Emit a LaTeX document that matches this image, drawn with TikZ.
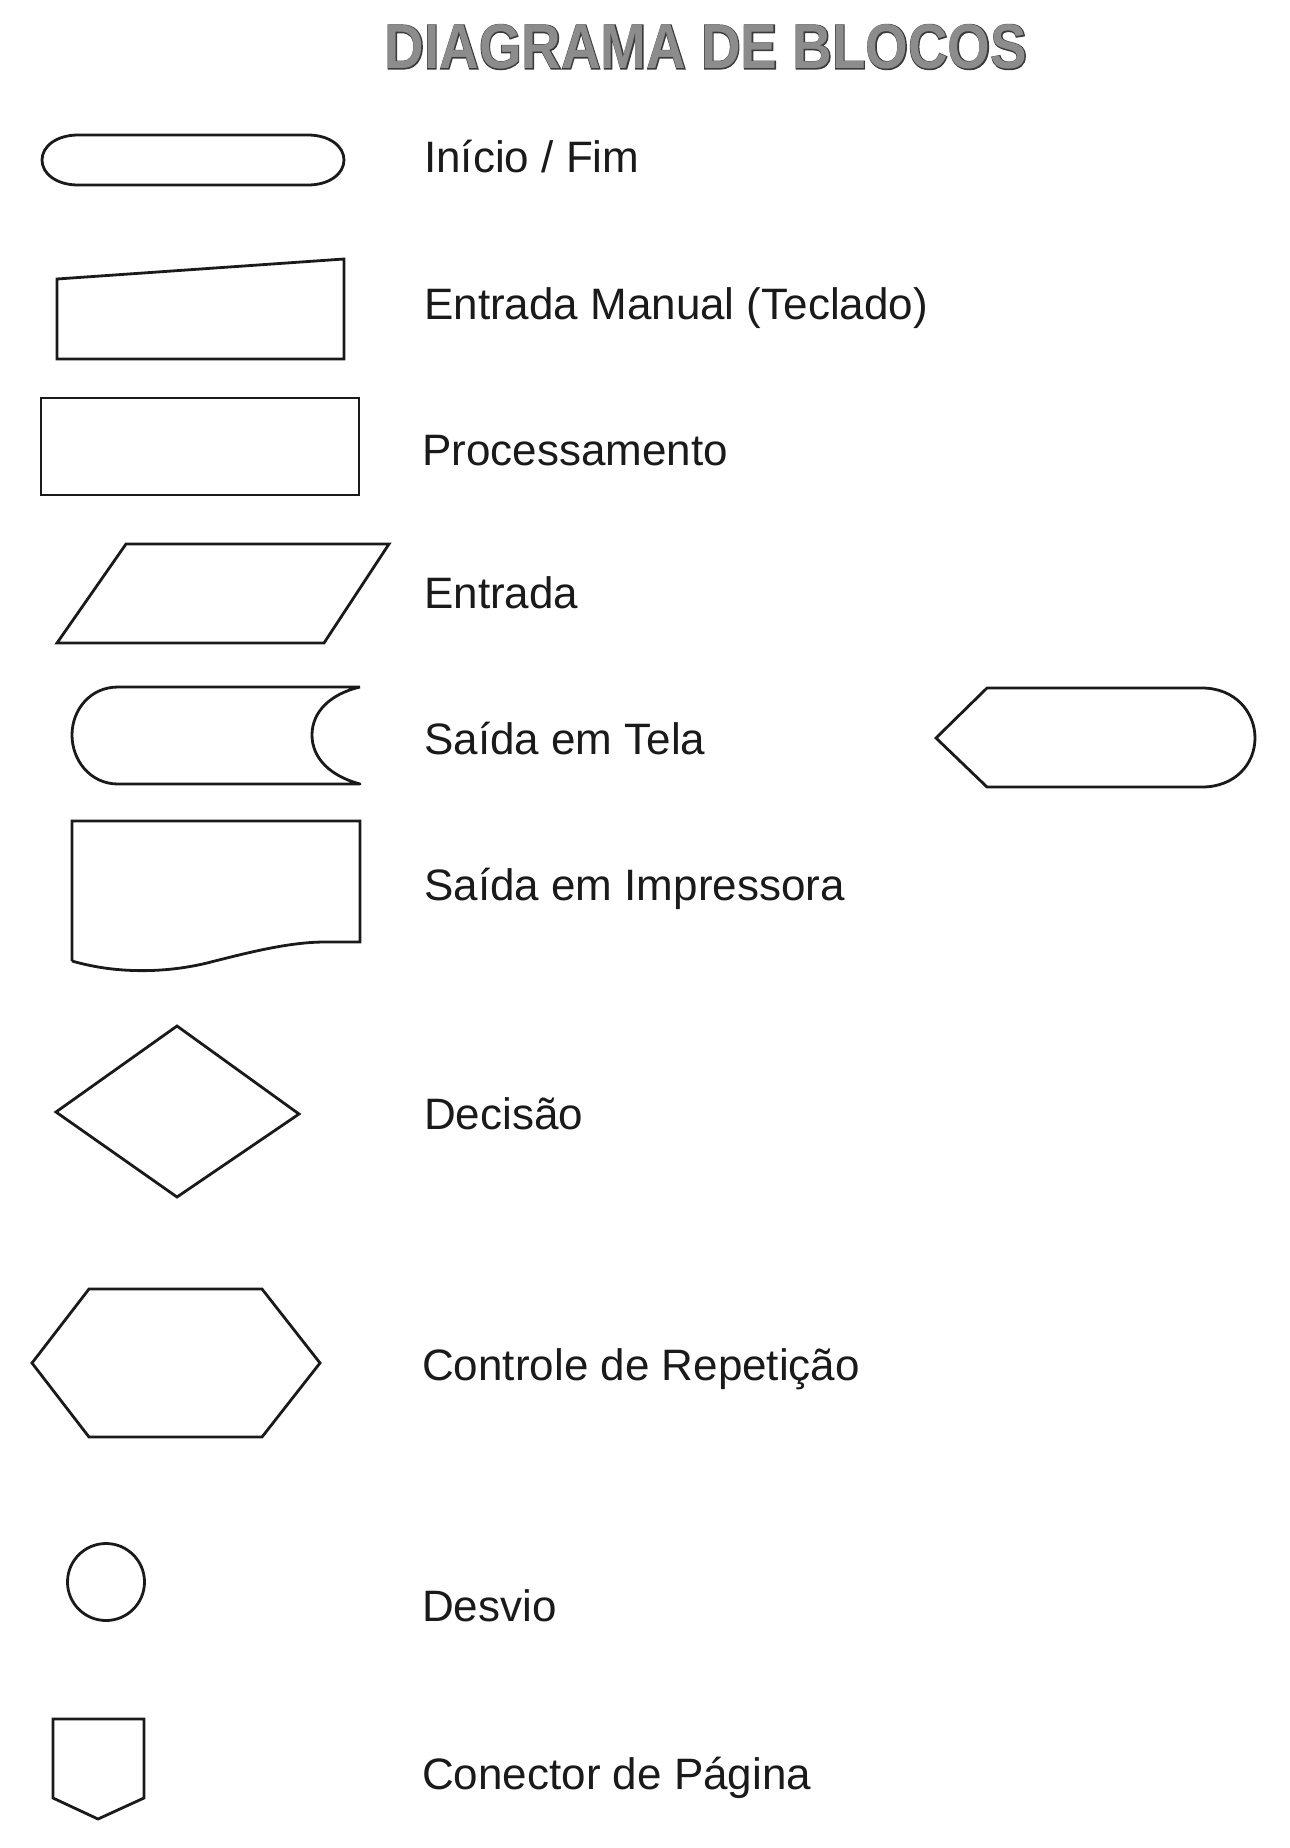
\documentclass[tikz,border=0pt]{standalone}
\usepackage{fontspec}
\setmainfont{Liberation Sans}
\newfontfamily\titlefont{Liberation Sans Bold}
\newfontfamily\titlefontdark[FakeBold=3]{Liberation Sans Bold}
\definecolor{inkc}{HTML}{1A1A1A}
\definecolor{titlefill}{HTML}{8C8C8C}
\definecolor{titleedge}{HTML}{3A3A3A}
\tikzset{
  shp/.style={draw=inkc, line width=2.8pt, line join=miter},
  lbl/.style={anchor=west, inner sep=0pt, text height=31.5pt, text depth=0pt,
              font=\fontsize{44}{48}\selectfont, text=inkc},
  ttl/.style={inner sep=0pt, xscale=0.87, font=\titlefont\fontsize{63}{66}\selectfont}
}
\begin{document}
\begin{tikzpicture}[x=1pt,y=-1pt]
\useasboundingbox (0,0) rectangle (1290,1848);
% title
\node[ttl, text=titleedge, font=\titlefontdark\fontsize{63}{66}\selectfont] (titleback) at (706,47) {DIAGRAMA DE BLOCOS};
\node[ttl, text=titlefill] (title) at (706,47) {DIAGRAMA DE BLOCOS};
% Inicio / Fim
\draw[shp] (78,135) -- (308,135) .. controls (329,135) and (344,146) .. (344,160)
  .. controls (344,174) and (329,185) .. (308,185) -- (78,185)
  .. controls (57,185) and (42,174) .. (42,160)
  .. controls (42,146) and (57,135) .. (78,135) -- cycle;
\node[lbl] (t1) at (424,157) {Início / Fim};
% Entrada Manual
\draw[shp] (57,279) -- (344,259) -- (344,359) -- (57,359) -- cycle;
\node[lbl] (t2) at (424,304) {Entrada Manual (Teclado)};
% Processamento
\draw[shp] (41,398) rectangle (359,495);
\node[lbl] (t3) at (422,450) {Processamento};
% Entrada
\draw[shp] (126,544) -- (389,544) -- (324,643) -- (57,643) -- cycle;
\node[lbl] (t4) at (424,593) {Entrada};
% Saida em Tela
\draw[shp, line join=round] (360,687) -- (118,687) .. controls (90,687) and (72,710) .. (72,735)
  .. controls (72,760) and (90,784) .. (118,784) -- (360,784)
  .. controls (330,776) and (312,758) .. (312,735)
  .. controls (312,712) and (330,694) .. (360,687);
\node[lbl] (t5) at (424,739) {Saída em Tela};
\draw[shp] (987,688) -- (1202,688) .. controls (1235,688) and (1255,712) .. (1255,738)
  .. controls (1255,764) and (1235,787) .. (1202,787) -- (987,787) -- (936,738) -- cycle;
% Saida em Impressora
\draw[shp] (72,961) -- (72,821) -- (360,821) -- (360,942) -- (325,942)
  .. controls (290,942) and (250,952) .. (207,963)
  .. controls (170,972) and (120,975) .. (72,961);
\node[lbl] (t6) at (424,885) {Saída em Impressora};
% Decisao
\draw[shp] (177,1026) -- (299,1114) -- (177,1197) -- (56,1112) -- cycle;
\node[lbl] (t7) at (424,1114) {Decisão};
% Controle de Repeticao
\draw[shp] (89,1289) -- (262,1289) -- (320,1363) -- (262,1437) -- (89,1437) -- (32,1363) -- cycle;
\node[lbl] (t8) at (422,1365) {Controle de Repetição};
% Desvio
\draw[shp] (106,1582) circle[radius=38.5pt];
\node[lbl] (t9) at (422,1606) {Desvio};
% Conector de Pagina
\draw[shp] (53,1719) -- (144,1719) -- (144,1798) -- (98,1819) -- (53,1798) -- cycle;
\node[lbl] (t10) at (422,1774) {Conector de Página};
\end{tikzpicture}
\end{document}
